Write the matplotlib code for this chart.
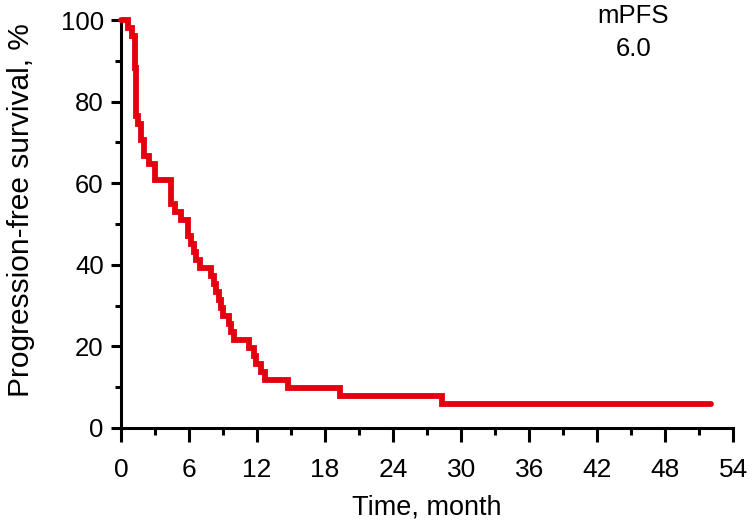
import matplotlib
matplotlib.use("Agg")
import matplotlib.pyplot as plt
import numpy as np

# Kaplan-Meier step data (time in months, survival %)
event_times = [0.0, 0.6, 1.0, 1.2, 1.35, 1.5, 1.75, 2.0, 2.5, 3.0, 4.4, 4.8, 5.3,
               5.9, 6.2, 6.4, 6.6, 7.0, 7.9, 8.2, 8.4, 8.6, 8.8, 9.0, 9.5, 9.7,
               10.0, 11.3, 11.7, 11.9, 12.3, 12.7, 14.7, 19.3, 28.3]
survival = [100.0, 98.0, 96.1, 88.2, 76.5, 74.5, 70.6, 66.7, 64.7, 60.8, 54.9, 52.9, 51.0,
            47.1, 45.1, 43.1, 41.2, 39.2, 37.3, 35.3, 33.3, 31.4, 29.4, 27.5, 25.5, 23.5,
            21.6, 19.6, 17.6, 15.7, 13.7, 11.8, 9.8, 7.8, 5.9]
last_followup = 52.0

x_ticks = [0, 6, 12, 18, 24, 30, 36, 42, 48, 54]
y_ticks = [0, 20, 40, 60, 80, 100]
annot_title = "mPFS"
annot_value = "6.0"

FONT = ["Liberation Sans", "DejaVu Sans"]
RED = "#E4000F"

fig = plt.figure(figsize=(7.52, 5.27), dpi=100)
ax = fig.add_axes([0.161, 0.188, 0.814, 0.774])

t = list(event_times) + [last_followup]
s = list(survival) + [survival[-1]]
ax.step(t, s, where="post", color=RED, lw=4.2, solid_capstyle="round",
        solid_joinstyle="miter", clip_on=False, zorder=3)

ax.set_xlim(0, 54)
ax.set_ylim(0, 100)
ax.set_xticks(x_ticks)
ax.set_xticks(np.arange(3, 54, 6), minor=True)
ax.set_yticks(y_ticks)
ax.set_yticks(np.arange(10, 100, 20), minor=True)

for side in ["top", "right"]:
    ax.spines[side].set_visible(False)
for side in ["left", "bottom"]:
    ax.spines[side].set_linewidth(2.2)
    ax.spines[side].set_color("black")

ax.tick_params(axis="x", which="major", length=10, width=2.2, direction="out", pad=12)
ax.tick_params(axis="x", which="minor", length=5, width=2.2, direction="out")
ax.tick_params(axis="y", which="major", length=7.5, width=2.2, direction="out", pad=5)
ax.tick_params(axis="y", which="minor", length=4, width=2.2, direction="out")

for lab in ax.get_yticklabels():
    lab.set_family(FONT)
    lab.set_fontsize(18.5)
for lab in ax.get_xticklabels():
    lab.set_family(FONT)
    lab.set_fontsize(19)

ax.set_xlabel("Time, month", family=FONT, fontsize=19.5)
ax.xaxis.label.set_va("center")
ax.xaxis.set_label_coords(0.5, -0.194)
ax.set_ylabel("Progression-free survival, %", family=FONT, fontsize=21.5)
ax.yaxis.label.set_va("center")
ax.yaxis.set_label_coords(-0.163, 0.535)

ax.text(45.2, 101.0, annot_title, family=FONT, fontsize=18.5, ha="center", va="center")
ax.text(45.2, 93.0, annot_value, family=FONT, fontsize=18.5, ha="center", va="center")

fig.savefig("out.png", dpi=100)
